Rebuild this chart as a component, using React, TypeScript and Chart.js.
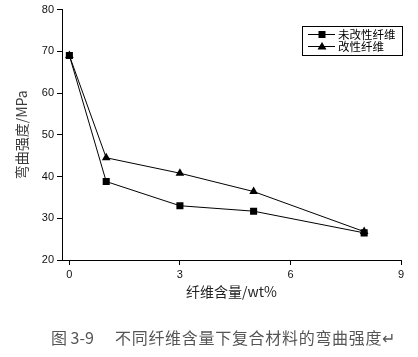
import React, { useEffect, useRef } from "react";
import { Chart, registerables } from "chart.js";

Chart.register(...registerables);

const fiberContent = [0, 1, 3, 5, 8];
const unmodifiedStrength = [69, 38.8, 33, 31.7, 26.5];
const modifiedStrength = [69, 44.5, 40.8, 36.4, 26.8];
const seriesLabels = ["未改性纤维", "改性纤维"];
const xTickValues = [0, 3, 6, 9];
const xAxisTitle = "纤维含量/wt%";
const yAxisTitle = "弯曲强度/MPa";
const captionLabel = "图 3-9";
const captionText = "不同纤维含量下复合材料的弯曲强度↵";

const legendPlugin = {
  id: "boxLegend",
  afterDraw(chart: any) {
    const ctx = chart.ctx;
    ctx.save();
    ctx.strokeStyle = "#000";
    ctx.lineWidth = 1;
    ctx.strokeRect(302.5, 26.5, 100, 29);
    const rows = [34, 46];
    chart.data.datasets.forEach((ds: any, i: number) => {
      const y = rows[i] + 0.5;
      ctx.beginPath();
      ctx.moveTo(308, y);
      ctx.lineTo(335, y);
      ctx.stroke();
      ctx.fillStyle = "#000";
      if (ds.pointStyle === "rect") {
        ctx.fillRect(318.5, y - 3.5, 7, 7);
      } else {
        ctx.beginPath();
        ctx.moveTo(322, y - 4.5);
        ctx.lineTo(326.5, y + 3);
        ctx.lineTo(317.5, y + 3);
        ctx.closePath();
        ctx.fill();
      }
      ctx.font = '11.5px "Noto Sans CJK SC"';
      ctx.textBaseline = "middle";
      ctx.textAlign = "left";
      ctx.fillStyle = "#000";
      ctx.fillText(ds.label, 338, y);
    });
    ctx.restore();
  },
};

export default function App() {
  const ref = useRef<HTMLCanvasElement>(null);
  useEffect(() => {
    if (!ref.current) return;
    const chart = new Chart(ref.current, {
      type: "line",
      data: {
        labels: fiberContent,
        datasets: [
          {
            label: seriesLabels[0],
            data: fiberContent.map((x, i) => ({ x, y: unmodifiedStrength[i] })),
            borderColor: "#000",
            backgroundColor: "#000",
            borderWidth: 1,
            pointStyle: "rect",
            pointRadius: 5,
            pointBorderWidth: 0,
            tension: 0,
          },
          {
            label: seriesLabels[1],
            data: fiberContent.map((x, i) => ({ x, y: modifiedStrength[i] })),
            borderColor: "#000",
            backgroundColor: "#000",
            borderWidth: 1,
            pointStyle: "triangle",
            pointRadius: 5,
            pointBorderWidth: 0,
            tension: 0,
          },
        ],
      },
      options: {
        animation: false,
        responsive: false,
        layout: { padding: { left: 0, top: 8, right: 17, bottom: 0 } },
        plugins: {
          legend: { display: false },
          tooltip: { enabled: false },
        },
        scales: {
          x: {
            type: "linear",
            min: -0.2,
            max: 9,
            afterBuildTicks: (scale: any) => {
              scale.ticks = xTickValues.map((v) => ({ value: v }));
            },
            afterFit: (scale: any) => {
              scale.height = 97;
            },
            grid: {
              display: true,
              drawOnChartArea: false,
              drawTicks: true,
              tickLength: 5,
              color: "#000",
            },
            border: { display: true, color: "#000", width: 1 },
            ticks: {
              color: "#111",
              font: { family: "Liberation Sans", size: 11 },
              padding: 3,
              maxRotation: 0,
            },
            title: {
              display: true,
              text: xAxisTitle,
              color: "#222",
              font: { family: "Noto Sans CJK SC", size: 14 },
              padding: { top: 0, bottom: 57 },
            },
          },
          y: {
            min: 20,
            max: 80,
            afterFit: (scale: any) => {
              scale.width = 62;
            },
            grid: {
              display: true,
              drawOnChartArea: false,
              drawTicks: true,
              tickLength: 5,
              color: "#000",
            },
            border: { display: true, color: "#000", width: 1 },
            ticks: {
              stepSize: 10,
              color: "#111",
              font: { family: "Liberation Sans", size: 11 },
              padding: 3,
            },
            title: {
              display: true,
              text: yAxisTitle,
              color: "#3a3a3a",
              font: { family: "Noto Sans CJK SC", size: 14 },
              padding: { top: 13, bottom: 0 },
            },
          },
        },
      },
      plugins: [legendPlugin],
    });
    return () => chart.destroy();
  }, []);

  return (
    <div style={{ position: "absolute", left: 0, top: 0, width: 418, height: 357, background: "#fff" }}>
      <canvas ref={ref} width={418} height={357} style={{ position: "absolute", left: 0, top: 0 }} />
      <div
        style={{
          position: "absolute",
          left: 51,
          top: 326,
          fontFamily: '"Noto Sans CJK SC"',
          fontSize: 16,
          lineHeight: "22px",
          color: "#555",
          whiteSpace: "nowrap",
        }}
      >
        <span style={{ display: "inline-block", width: 64 }}>{captionLabel}</span>
        <span style={{ letterSpacing: "0.7px" }}>{captionText}</span>
      </div>
    </div>
  );
}
